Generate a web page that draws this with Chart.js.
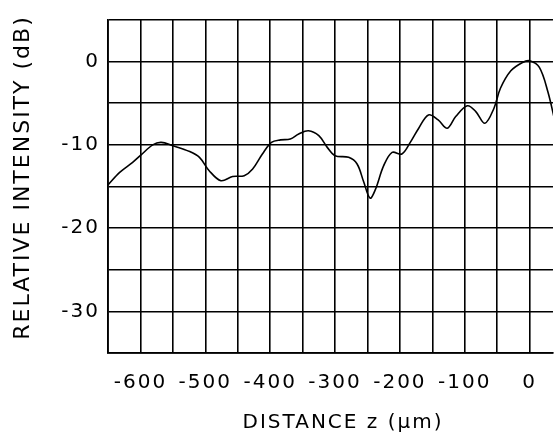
<!DOCTYPE html>
<html>
<head>
<meta charset="utf-8">
<script src="https://cdn.jsdelivr.net/npm/chart.js@4"></script>
<style>
  html, body { margin: 0; padding: 0; background: #fff; }
  #wrap { width: 554px; height: 435px; }
</style>
</head>
<body>
<div id="wrap"><canvas id="chart" width="554" height="435"></canvas></div>
<script>
const distance = [
  -650, -632, -612, -599, -581, -568, -550, -524, -509, -494, -476, -458,
  -440, -427, -412, -398, -384, -369, -356, -341, -325, -312, -300, -279,
  -266, -256, -246, -238, -225, -212, -197, -184, -171, -156, -141, -127,
  -114, -96, -83, -69, -55, -45, -29, -11, 0, 15, 28, 40
];
const intensity = [
  -14.8, -13.3, -12.1, -11.2, -10.0, -9.7, -10.1, -10.8, -11.5, -13.1, -14.3, -13.8,
  -13.7, -12.9, -11.1, -9.7, -9.4, -9.3, -8.7, -8.3, -8.9, -10.3, -11.3, -11.5,
  -12.3, -14.4, -16.4, -15.4, -12.5, -10.9, -11.1, -9.7, -8.0, -6.4, -7.0, -8.0,
  -6.6, -5.3, -6.0, -7.4, -5.6, -3.2, -1.1, -0.1, 0.1, -0.7, -3.6, -7.5
];

// leading spaces nudge the titles off the plot-area centre, as in the original
const xTitle = "   DISTANCE z (μm)";
const yTitle = "  RELATIVE INTENSITY (dB)";

const points = distance.map((d, i) => ({ x: d, y: intensity[i] }));

const FONT = "'DejaVu Sans', sans-serif";
const INK = "#000";

// plotter-style lettering is spaced wider than normal fonts
const spacingPlugin = {
  id: "spacing",
  beforeDraw(chart) {
    chart.ctx.letterSpacing = "2px";
  },
};

const ctx = document.getElementById("chart").getContext("2d");

new Chart(ctx, {
  type: "line",
  data: {
    datasets: [
      {
        data: points,
        borderColor: INK,
        borderWidth: 1.6,
        fill: false,
        tension: 0.35,
        pointRadius: 0,
      },
    ],
  },
  plugins: [spacingPlugin],
  options: {
    responsive: false,
    animation: false,
    layout: { padding: { top: 16, left: 0, right: 0, bottom: 0 } },
    plugins: {
      legend: { display: false },
      tooltip: { enabled: false },
    },
    scales: {
      x: {
        type: "linear",
        min: -650,
        max: 36,
        afterFit: (scale) => { scale.height = 82; },
        ticks: {
          stepSize: 50,
          includeBounds: false,
          maxRotation: 0,
          autoSkip: false,
          padding: 18,
          color: INK,
          font: { family: FONT, size: 20 },
          callback: (v) => (v % 100 === 0 ? String(v) : ""),
        },
        grid: { color: INK, lineWidth: 1.6, drawTicks: false },
        border: { color: INK, width: 1.8 },
        title: {
          display: true,
          text: xTitle,
          color: INK,
          font: { family: FONT, size: 20 },
          padding: { top: 0, bottom: 0 },
        },
      },
      y: {
        min: -35,
        max: 5,
        afterFit: (scale) => { scale.width = 108; },
        ticks: {
          stepSize: 5,
          padding: 8,
          color: INK,
          font: { family: FONT, size: 20 },
          callback: (v) => (v % 10 === 0 ? String(v) : ""),
        },
        grid: { color: INK, lineWidth: 1.6, drawTicks: false },
        border: { color: INK, width: 1.8 },
        title: {
          display: true,
          text: yTitle,
          color: INK,
          font: { family: FONT, size: 22 },
          padding: { top: 10, bottom: 0 },
        },
      },
    },
  },
});
</script>
</body>
</html>
